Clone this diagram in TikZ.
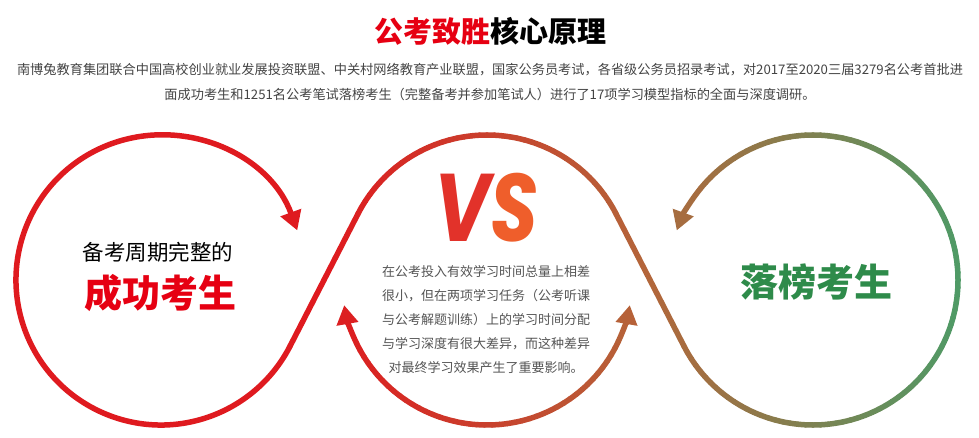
\documentclass[tikz,border=0pt]{standalone}
\usepackage{fontspec}
\setmainfont{Noto Sans CJK SC}
\newfontfamily\vsfont{Poppins}
\usetikzlibrary{arrows.meta,calc}

\definecolor{loopred}{HTML}{DF1A1F}
\definecolor{loopbrown}{HTML}{B3663A}
\definecolor{loopgreen}{HTML}{4F9A66}
\definecolor{winred}{HTML}{E60012}
\definecolor{losegreen}{HTML}{2E8B4A}
\definecolor{introgray}{HTML}{444444}
\definecolor{txtgray}{HTML}{555555}
\definecolor{vsred}{HTML}{E2322A}
\definecolor{vsorange}{HTML}{EF5E2B}

% colour of the loop at abscissa #1 (red -> brown -> green)
\newcommand\loopcol[1]{%
  \pgfmathsetmacro\lx{#1}%
  \pgfmathtruncatemacro\lpr{max(0,min(100,(650-\lx)/3.2))}%
  \pgfmathtruncatemacro\lpg{max(0,min(100,(960-\lx)/3.1))}%
  \colorlet{segc}{loopred!\lpr!loopbrown!\lpg!loopgreen}}

\begin{document}
\begin{tikzpicture}[
  x=1pt,y=1pt,
  every node/.style={inner sep=0pt},
  loopline/.style={line width=5.5pt,line cap=round},
  >={Triangle[length=19pt,width=21pt]}]

\useasboundingbox (0,0) rectangle (979,437);
\fill[white] (0,0) rectangle (979,437);

% ---- centres and tangent points ----
\coordinate (L) at (161,157);
\coordinate (M) at (487,157);
\coordinate (R) at (813,157);
\coordinate (t1) at ($(L)+(333:145)$);
\coordinate (t2) at ($(M)+(153:145)$);
\coordinate (t3) at ($(M)+(27:145)$);
\coordinate (t4) at ($(R)+(207:145)$);

% ---- left loop ----
\draw[loopline,loopred,<-] ([shift={(20:145)}]L) arc[start angle=20,end angle=333,radius=145];
\foreach \i [evaluate=\i as \fa using \i/6, evaluate=\i as \fb using (\i+1)/6] in {0,...,5} {
  \loopcol{290.2+67.6*(\i+0.5)/6}
  \draw[loopline,segc] ($(t1)!\fa!(t2)$) -- ($(t1)!\fb!(t2)$);
}

% ---- over the middle ----
\foreach \a in {153,150,...,30} {
  \loopcol{487+145*cos(\a-1.5)}
  \draw[loopline,segc] ([shift={(\a:145)}]M) arc[start angle=\a,end angle=\a-3,radius=145];
}
\foreach \i [evaluate=\i as \fa using \i/6, evaluate=\i as \fb using (\i+1)/6] in {0,...,5} {
  \loopcol{616.2+67.6*(\i+0.5)/6}
  \draw[loopline,segc] ($(t3)!\fa!(t4)$) -- ($(t3)!\fb!(t4)$);
}

% ---- right loop ----
\foreach \a in {207,210,...,498} {
  \loopcol{813+145*cos(\a+1.5)}
  \draw[loopline,segc] ([shift={(\a:145)}]R) arc[start angle=\a,end angle=\a+3,radius=145];
}
\loopcol{813+145*cos(510)}
\draw[loopline,segc,->] ([shift={(501:145)}]R) arc[start angle=501,end angle=520,radius=145];

% ---- lower arc ----
\loopcol{487+145*cos(198)}
\draw[loopline,segc,<-] ([shift={(190:145)}]M) arc[start angle=190,end angle=206,radius=145];
\foreach \a in {206,209,...,332} {
  \loopcol{487+145*cos(\a+1.5)}
  \draw[loopline,segc] ([shift={(\a:145)}]M) arc[start angle=\a,end angle=\a+3,radius=145];
}
\loopcol{487+145*cos(342)}
\draw[loopline,segc,->] ([shift={(335:145)}]M) arc[start angle=335,end angle=350,radius=145];

% ---- texts ----
\node[font=\fontsize{29}{31}\selectfont\bfseries] (title) at (490,406)
  {\textcolor{winred}{公考致胜}核心原理};
\node[font=\fontsize{13.2}{25}\selectfont,text=introgray,align=center] (intro) at (490,354.5)
  {南博兔教育集团联合中国高校创业就业发展投资联盟、中关村网络教育产业联盟，国家公务员考试，各省级公务员招录考试，对2017至2020三届3279名公考首批进\\
   面成功考生和1251名公考笔试落榜考生（完整备考并参加笔试人）进行了17项学习模型指标的全面与深度调研。};
\node[font=\fontsize{21.5}{24}\selectfont] (cycle) at (158,185) {备考周期完整的};
\node[font=\fontsize{38}{40}\selectfont\bfseries,text=winred] (win) at (160,144) {成功考生};
\node[font=\fontsize{38}{40}\selectfont\bfseries,text=losegreen] (lose) at (816,155) {落榜考生};
\node[font=\vsfont\fontsize{96}{96}\selectfont\bfseries\itshape,xscale=0.8] (vs) at (486,229)
  {\textcolor{vsred}{V}\textcolor{vsorange}{S}};
\node[font=\fontsize{13}{24}\selectfont,text=txtgray,align=center] (gap) at (486,117)
  {在公考投入有效学习时间总量上相差\\
   很小，但在两项学习任务（公考听课\\
   与公考解题训练）上的学习时间分配\\
   与学习深度有很大差异，而这种差异\\
   对最终学习效果产生了重要影响。};
\end{tikzpicture}
\end{document}
